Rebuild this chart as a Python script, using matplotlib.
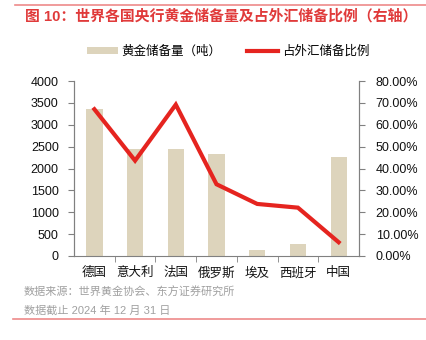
import matplotlib
matplotlib.use("Agg")
import matplotlib.pyplot as plt
from matplotlib.lines import Line2D
from matplotlib.patches import Patch
from matplotlib.ticker import FuncFormatter, FixedLocator

plt.rcParams['font.family'] = ['Liberation Sans', 'Noto Sans CJK SC', 'DejaVu Sans']

countries = ['德国', '意大利', '法国', '俄罗斯', '埃及', '西班牙', '中国']
gold_tonnes = [3351.5, 2451.8, 2437.0, 2335.9, 126.6, 281.6, 2264.3]
fx_share = [67.1, 43.6, 69.2, 32.8, 23.8, 22.1, 6.3]

bar_color = '#DDD4BC'
line_color = '#E5241F'
red = '#E03A3A'
spine_gray = '#808080'

fig = plt.figure(figsize=(4.26, 3.40), dpi=100)
ax = fig.add_axes([74 / 426, 1 - 256 / 340, 285 / 426, 175 / 340])
ax2 = ax.twinx()

x = list(range(len(countries)))
ax.bar(x, gold_tonnes, width=0.4, color=bar_color, zorder=2)
ax2.plot(x, fx_share, color=line_color, lw=3.0, solid_joinstyle='miter', zorder=3)

ax.set_xlim(-0.5, len(countries) - 0.5)
ax.set_ylim(0, 4000)
ax.set_yticks(range(0, 4001, 500))
ax2.set_ylim(0, 80)
ax2.set_yticks(range(0, 81, 10))
ax2.yaxis.set_major_formatter(FuncFormatter(lambda v, p: f'{v:.2f}%'))

ax.set_xticks(x)
ax.set_xticklabels(countries, fontsize=9, color='#111111')
ax.xaxis.set_minor_locator(FixedLocator([i + 0.5 for i in range(len(countries) - 1)]))
ax.tick_params(axis='x', which='major', length=0, pad=8)
ax.tick_params(axis='x', which='minor', length=4, color=spine_gray, direction='out')
ax.tick_params(axis='y', length=4, color=spine_gray, labelsize=9, labelcolor='#111111', pad=7)
ax2.tick_params(axis='y', length=4, color=spine_gray, labelsize=9, labelcolor='#111111', pad=8)

for a in (ax, ax2):
    a.spines['top'].set_visible(False)
    for s in ('left', 'right', 'bottom'):
        a.spines[s].set_color(spine_gray)
        a.spines[s].set_linewidth(0.8)
ax2.spines['bottom'].set_visible(False)

# title and frame rules
fig.add_artist(Line2D([15 / 426, 1], [1 - 5 / 340] * 2, color='#EE8A8A', lw=1.2))
fig.add_artist(Line2D([13 / 426, 1], [1 - 319 / 340] * 2, color='#EE8A8A', lw=1.2))
fig.text(25 / 426, 1 - 16 / 340, '图 10：世界各国央行黄金储备量及占外汇储备比例（右轴）',
         color=red, fontsize=10.7, fontweight='bold', va='center', ha='left')

handles = [Patch(facecolor=bar_color, edgecolor='none'),
           Line2D([], [], color=line_color, lw=3)]
fig.legend(handles, ['黄金储备量（吨）', '占外汇储备比例'], loc='center',
           bbox_to_anchor=(228 / 426, 1 - 52 / 340), ncol=2, frameon=False,
           fontsize=9, handlelength=2.5, handleheight=0.5, columnspacing=2.0,
           handletextpad=0.3)

fig.text(24 / 426, 1 - 292 / 340, '数据来源：世界黄金协会、东方证券研究所',
         color='#A0A0A0', fontsize=8, va='center', ha='left')
fig.text(24 / 426, 1 - 310 / 340, '数据截止 2024 年 12 月 31 日',
         color='#A0A0A0', fontsize=8, va='center', ha='left')

fig.savefig('out.png', dpi=100)
